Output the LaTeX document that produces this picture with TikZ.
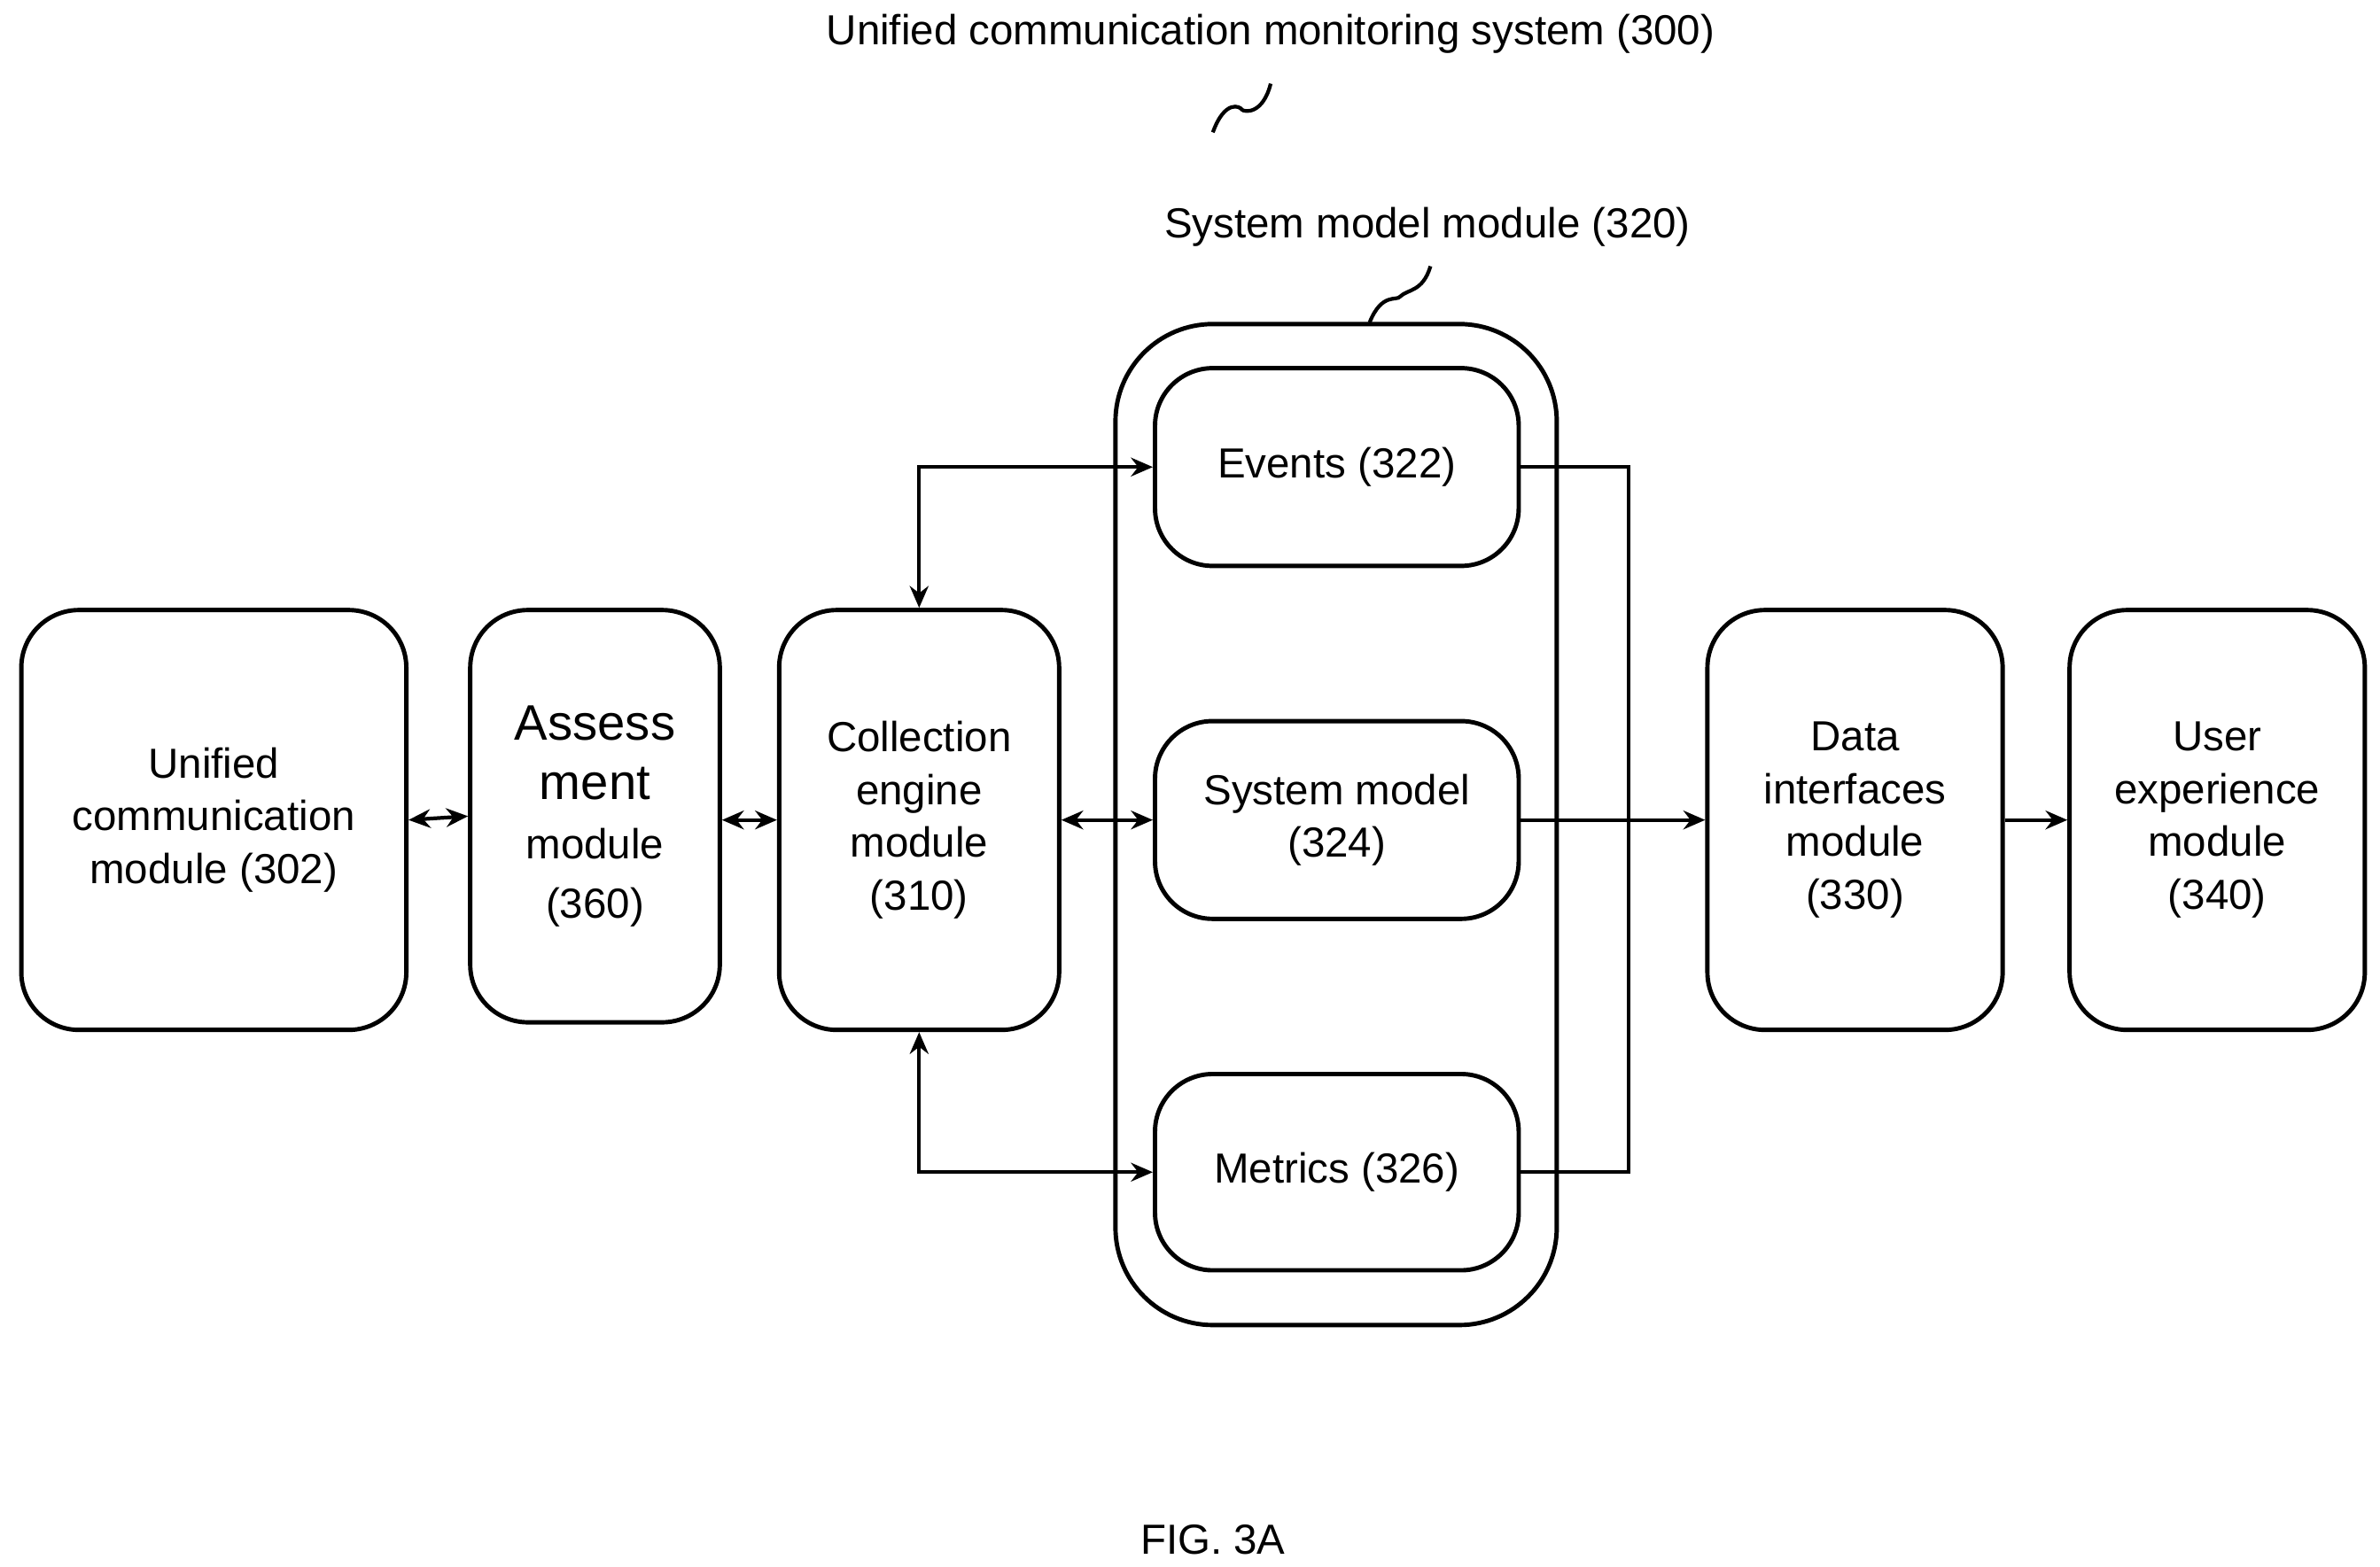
\documentclass[tikz,border=0pt]{standalone}
\usepackage{fontspec}
\setmainfont{Liberation Sans}
\usetikzlibrary{arrows.meta}
\begin{document}
\begin{tikzpicture}[x=0.01717cm,y=-0.01717cm,
 box/.style={draw,line width=1.4pt,rounded corners=0.65cm,align=center,inner sep=0pt,font=\fontsize{13.5}{17}\selectfont},
 ln/.style={line width=1.2pt},
 ar/.style={ln,-{Stealth[length=7pt,width=6pt]}},
 dar/.style={ln,{Stealth[length=7pt,width=6pt]}-{Stealth[length=7pt,width=6pt]}},
 lbl/.style={font=\fontsize{13.5}{17}\selectfont}]
\useasboundingbox (0,0) rectangle (1564,1030);
\node[box,minimum width=253*0.01717cm,minimum height=276*0.01717cm] (ucm) at (140.5,539) {Unified\\communication\\module (302)};
\node[box,minimum width=164*0.01717cm,minimum height=271*0.01717cm,font=\fontsize{16}{19}\selectfont] (asm) at (391,536.5) {Assess\\ment\\{\fontsize{13.5}{17}\selectfont module}\\{\fontsize{13.5}{17}\selectfont (360)}};
\node[box,minimum width=184*0.01717cm,minimum height=276*0.01717cm] (col) at (604,539) {Collection\\engine\\module\\(310)};
\node[box,rounded corners=1.1cm,minimum width=290*0.01717cm,minimum height=658*0.01717cm] (smm) at (878,542) {};
\node[box,minimum width=239*0.01717cm,minimum height=130*0.01717cm] (ev) at (878.5,307) {Events (322)};
\node[box,minimum width=239*0.01717cm,minimum height=130*0.01717cm] (sm) at (878.5,539) {System model\\(324)};
\node[box,minimum width=239*0.01717cm,minimum height=129*0.01717cm] (me) at (878.5,770.5) {Metrics (326)};
\node[box,minimum width=194*0.01717cm,minimum height=276*0.01717cm] (di) at (1219,539) {Data\\interfaces\\module\\(330)};
\node[box,minimum width=194*0.01717cm,minimum height=276*0.01717cm] (ux) at (1457,539) {User\\experience\\module\\(340)};
\node[lbl] (t300) at (835,22) {Unified communication monitoring system (300)};
\node[lbl] (t320) at (938,149) {System model module (320)};
\node[lbl] (fig) at (797,1012) {FIG. 3A};
\coordinate (ta) at (797,87); \coordinate (tb) at (835,55);
\draw[ln] (ta) .. controls (805,65) and (815,70) .. (816,72) .. controls (818,74) and (830,75) .. (tb);
\coordinate (sa) at (900,212); \coordinate (sb) at (940,175);
\draw[ln] (sa) .. controls (908,192) and (918,198) .. (920,195) .. controls (925,190) and (935,192) .. (sb);
\draw[dar] (ucm.east) -- (asm.west);
\draw[dar] (asm.east|-ucm.east) -- (col.west);
\draw[dar] (col.east) -- (sm.west);
\draw[dar] (col.north) |- (ev.west);
\draw[dar] (col.south) |- (me.west);
\coordinate (j) at (1070,539);
\draw[ln] (ev.east) -| (j);
\draw[ln] (me.east) -| (j);
\draw[ar] (sm.east) -- (di.west);
\draw[ar] (di.east) -- (ux.west);
\end{tikzpicture}
\end{document}
